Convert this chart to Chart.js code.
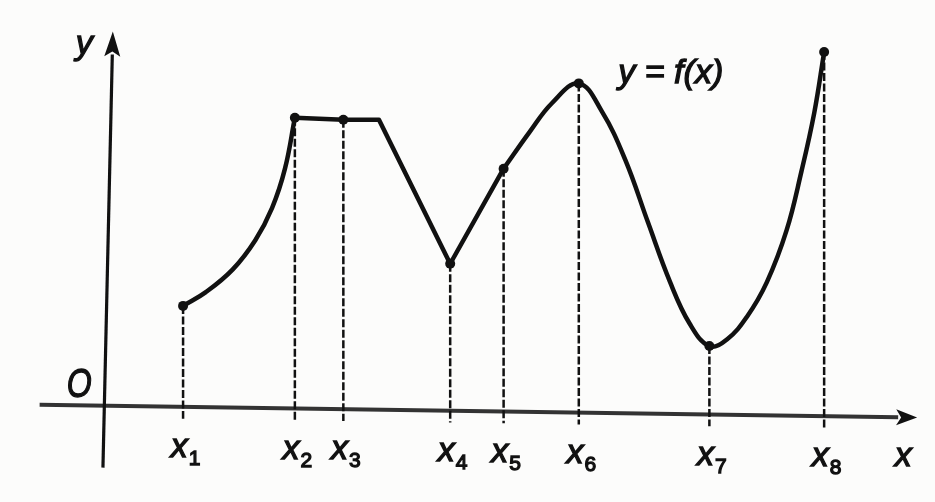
<!DOCTYPE html>
<html>
<head>
<meta charset="utf-8">
<script src="https://cdn.jsdelivr.net/npm/chart.js@4"></script>
<style>
  html, body { margin: 0; padding: 0; background: #fcfcfb; }
  #wrap { width: 935px; height: 502px; }
</style>
</head>
<body>
<div id="wrap"><canvas id="graph"></canvas></div>
<script>
// marked points x1 .. x8
const pointNames = ['1', '2', '3', '4', '5', '6', '7', '8'];
const pointX = [0.80, 1.93, 2.42, 3.50, 4.04, 4.80, 6.12, 7.28];
const pointY = [1.03, 2.95, 2.93, 1.46, 2.43, 3.30, 0.62, 3.62];

// rising curve x1 -> x2
const curveAX = [0.80, 1.03, 1.30, 1.53, 1.70, 1.83, 1.93];
const curveAY = [1.03, 1.17, 1.40, 1.70, 2.03, 2.43, 2.95];

// straight pieces x2 -> x3 -> corner -> x4 -> x5
const brokenX = [1.93, 2.42, 2.78, 3.50, 4.04];
const brokenY = [2.95, 2.93, 2.93, 1.46, 2.43];

// smooth curve x5 -> x6 -> x7 -> x8
const curveCX = [4.04, 4.30, 4.53, 4.80, 5.03, 5.27, 5.50, 5.72, 5.92, 6.12, 6.30, 6.50, 6.70, 6.90, 7.05, 7.18, 7.28];
const curveCY = [2.43, 2.80, 3.10, 3.30, 3.02, 2.52, 1.88, 1.28, 0.85, 0.62, 0.69, 0.92, 1.27, 1.80, 2.40, 3.00, 3.62];

const ink = '#111';
const italic = 'italic 34px "Liberation Sans", Arial, sans-serif';
const subFont = '21px "Liberation Sans", Arial, sans-serif';

// axes (slightly tilted like the scan)
const xAxisFrom = [-0.65, 0.02], xAxisTo = [8.22, -0.11];
const yAxisFrom = [-0.01, -0.62], yAxisTo = [0.09, 3.83];

function axisYAt(x) {
  const t = (x - xAxisFrom[0]) / (xAxisTo[0] - xAxisFrom[0]);
  return xAxisFrom[1] + t * (xAxisTo[1] - xAxisFrom[1]);
}

function zip(xs, ys) {
  return xs.map((x, i) => ({ x: x, y: ys[i] }));
}

const curveStyle = {
  type: 'line', borderColor: ink, borderWidth: 4.5, pointRadius: 0,
  fill: false, tension: 0.4, borderCapStyle: 'round'
};

const dashed = pointX.map((x, i) => ({
  type: 'line',
  data: [{ x: x, y: pointY[i] }, { x: x, y: axisYAt(x) - 0.12 }],
  borderColor: ink, borderWidth: 2.5, borderDash: [8, 2.5], pointRadius: 0, fill: false
}));

// draw text a bit heavier, like the printed figure
function inkText(ctx, s, x, y) {
  ctx.fillText(s, x, y);
  ctx.strokeText(s, x, y);
}

const axesPlugin = {
  id: 'axes',
  beforeDatasetsDraw(chart) {
    const ctx = chart.ctx, xs = chart.scales.x, ys = chart.scales.y;
    const P = (p) => [xs.getPixelForValue(p[0]), ys.getPixelForValue(p[1])];

    function arrow(from, to, len, half, width, color) {
      const a = P(from), b = P(to);
      const dx = b[0] - a[0], dy = b[1] - a[1];
      const d = Math.hypot(dx, dy), ux = dx / d, uy = dy / d;
      const bx = b[0] - ux * len, by = b[1] - uy * len;
      ctx.save();
      ctx.strokeStyle = color;
      ctx.fillStyle = ink;
      ctx.lineWidth = width;
      ctx.beginPath();
      ctx.moveTo(a[0], a[1]);
      ctx.lineTo(bx + ux * 2, by + uy * 2);
      ctx.stroke();
      ctx.beginPath();
      ctx.moveTo(b[0], b[1]);
      ctx.lineTo(bx - uy * half, by + ux * half);
      ctx.lineTo(bx + ux * 5, by + uy * 5);
      ctx.lineTo(bx + uy * half, by - ux * half);
      ctx.closePath();
      ctx.fill();
      ctx.restore();
    }
    arrow(xAxisFrom, xAxisTo, 21, 8, 4, '#333');
    arrow(yAxisFrom, yAxisTo, 25, 8, 3.2, ink);
  },
  afterDatasetsDraw(chart) {
    const ctx = chart.ctx, xs = chart.scales.x, ys = chart.scales.y;
    ctx.save();
    ctx.fillStyle = ink;
    ctx.strokeStyle = ink;
    ctx.lineWidth = 1.3;
    ctx.textBaseline = 'alphabetic';

    // x_i labels under the axis
    pointX.forEach((x, i) => {
      const px = xs.getPixelForValue(x) + 2;
      const base = ys.getPixelForValue(axisYAt(x)) + 50;
      ctx.font = italic;
      const w1 = ctx.measureText('x').width;
      ctx.font = subFont;
      const w2 = ctx.measureText(pointNames[i]).width;
      const left = px - (w1 + w2) / 2;
      ctx.font = italic;
      ctx.textAlign = 'left';
      inkText(ctx, 'x', left, base);
      ctx.font = subFont;
      inkText(ctx, pointNames[i], left + w1 + 1, base + 8);
    });

    // axis names and origin
    ctx.font = italic;
    ctx.textAlign = 'center';
    inkText(ctx, 'x', xs.getPixelForValue(8.08), ys.getPixelForValue(axisYAt(8.08)) + 49);
    inkText(ctx, 'y', xs.getPixelForValue(-0.20), ys.getPixelForValue(3.60));

    ctx.save();
    ctx.translate(xs.getPixelForValue(-0.25), ys.getPixelForValue(0.10));
    ctx.scale(0.78, 1);
    ctx.font = 'italic 41px "Liberation Sans", Arial, sans-serif';
    inkText(ctx, 'O', 0, 0);
    ctx.restore();

    // function name
    ctx.font = italic;
    ctx.textAlign = 'left';
    inkText(ctx, 'y = f(x)', xs.getPixelForValue(5.20), ys.getPixelForValue(3.30));
    ctx.restore();
  }
};

new Chart(document.getElementById('graph'), {
  type: 'line',
  data: {
    datasets: [
      Object.assign({ data: zip(curveAX, curveAY) }, curveStyle),
      Object.assign({ data: zip(brokenX, brokenY) }, curveStyle, { tension: 0, borderJoinStyle: 'round' }),
      Object.assign({ data: zip(curveCX, curveCY) }, curveStyle),
      {
        type: 'scatter', data: zip(pointX, pointY),
        pointRadius: 5, pointBackgroundColor: ink, pointBorderColor: ink, pointBorderWidth: 0
      }
    ].concat(dashed)
  },
  options: {
    responsive: true,
    maintainAspectRatio: false,
    animation: false,
    layout: { padding: 0 },
    plugins: { legend: { display: false }, tooltip: { enabled: false } },
    scales: {
      x: { type: 'linear', min: -1, max: 8.35, display: false },
      y: { type: 'linear', min: -0.92, max: 4.10, display: false }
    }
  },
  plugins: [axesPlugin]
});
</script>
</body>
</html>
